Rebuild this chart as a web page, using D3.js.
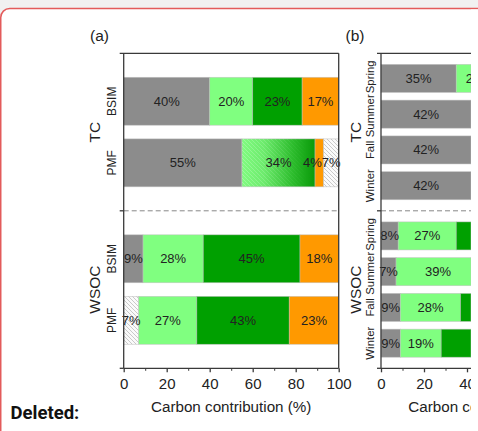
<!DOCTYPE html>
<html><head><meta charset="utf-8">
<script src="https://cdn.jsdelivr.net/npm/d3@7"></script>
<style>body{margin:0;background:#f1f1f1;overflow:hidden}svg{display:block}</style>
</head><body>
<script>
// ---------------- data ----------------
const groups = ["TC", "WSOC"];
const methods = ["BSIM", "PMF"];
const seasons = ["Spring", "Summer", "Fall", "Winter"];
const xTicks = [0, 20, 40, 60, 80, 100];
const xMinorTicks = [10, 30, 50, 70, 90];
const panelTitles = ["(a)", "(b)"];
const xAxisTitle = "Carbon contribution (%)";
const footerText = "Deleted:";

const tcBSIMSources = ["gray", "light", "dark", "orange"];
const tcBSIMValues = [40, 20, 23, 17];
const tcPMFSources = ["gray", "mixed", "orange", "hatch"];
const tcPMFValues = [55, 34, 4, 7];
const wsocBSIMSources = ["gray", "light", "dark", "orange"];
const wsocBSIMValues = [9, 28, 45, 18];
const wsocPMFSources = ["hatch", "light", "dark", "orange"];
const wsocPMFValues = [7, 27, 43, 23];

const seasonSources = ["gray", "light", "dark", "orange"];
const tcSeasonValues = [[35, 21, 26, 18], [42, 19, 22, 17], [42, 18, 23, 17], [42, 17, 25, 16]];
const wsocSeasonValues = [[8, 27, 47, 18], [7, 39, 38, 16], [9, 28, 45, 18], [9, 19, 52, 20]];

// ---------------- setup ----------------
const W = 478, H = 431;
const FONT = "'Liberation Sans', Arial, sans-serif";
const colors = { gray: "#8c8c8c", light: "#80ff80", dark: "#00a000", orange: "#ff9900" };

const svg = d3.select("body").append("svg").attr("width", W).attr("height", H);
const defs = svg.append("defs");

const hp = defs.append("pattern").attr("id", "hatch").attr("patternUnits", "userSpaceOnUse")
  .attr("width", 4).attr("height", 4);
hp.append("rect").attr("width", 4).attr("height", 4).attr("fill", "#fafafa");
hp.append("path").attr("d", "M-1,-1L5,5M3,-1L5,1M-1,3L1,5").attr("stroke", "#b4b4b4").attr("stroke-width", 0.7);
const hp2 = defs.append("pattern").attr("id", "hatchLight").attr("patternUnits", "userSpaceOnUse")
  .attr("width", 4).attr("height", 4);
hp2.append("path").attr("d", "M-1,-1L5,5M3,-1L5,1M-1,3L1,5").attr("stroke", "rgba(255,255,255,0.35)").attr("stroke-width", 0.7);
const mg = defs.append("linearGradient").attr("id", "mixedGrad").attr("x1", 0).attr("x2", 1).attr("y1", 0).attr("y2", 0);
[[0, "#80fb80"], [0.3, "#6deb6d"], [0.7, "#2cbc2c"], [1, "#0a9a0a"]].forEach(([o, c]) =>
  mg.append("stop").attr("offset", o).attr("stop-color", c));
const fg = defs.append("linearGradient").attr("id", "fadeGrad").attr("x1", 0).attr("x2", 1).attr("y1", 0).attr("y2", 0);
fg.append("stop").attr("offset", 0).attr("stop-color", "#fff");
fg.append("stop").attr("offset", 0.9).attr("stop-color", "#000");
const mask = defs.append("mask").attr("id", "fadeMask").attr("maskContentUnits", "objectBoundingBox");
mask.append("rect").attr("width", 1).attr("height", 1).attr("fill", "url(#fadeGrad)");

svg.append("rect").attr("x", 0.75).attr("y", 8.5).attr("width", W + 20).attr("height", H + 20)
  .attr("rx", 9).attr("fill", "#fff").attr("stroke", "#e35b5b").attr("stroke-width", 1.5);

svg.append("text").attr("x", 10.5).attr("y", 418.5).text(footerText)
  .attr("font-family", "Roboto, 'Liberation Sans', sans-serif").attr("font-weight", "bold")
  .attr("font-size", 18.5).attr("fill", "#111");

const plotTop = 53.3, plotBottom = 368.3;
const yGroup = d3.scaleBand().domain(groups).range([plotTop, plotBottom]);

function fillFor(s) {
  if (s === "mixed") return "url(#mixedGrad)";
  if (s === "hatch") return "url(#hatch)";
  return colors[s];
}

function drawPanel(g, cfg) {
  const x = d3.scaleLinear().domain([0, 100]).range(cfg.xRange);
  const x0 = cfg.xRange[0], x1 = cfg.xRange[1];
  const lim = cfg.limit;
  const cx0 = v => Math.min(x(v), lim);

  groups.forEach((grp, gi) => {
    const g0 = yGroup(grp), g1 = yGroup(grp) + yGroup.bandwidth();
    const yRow = d3.scaleBand().domain(cfg.rows).range([g0, g1])
      .paddingInner(cfg.pi).paddingOuter(cfg.po);
    const rowLabels = [];
    cfg.rows.forEach((row, ri) => {
      const vals = cfg.values[gi][ri], srcs = cfg.sources[gi][ri];
      let cum = 0;
      const segs = vals.map((v, i) => { const s = { s: srcs[i], a: cum, b: cum + v, v }; cum += v; return s; });
      const y = yRow(row), bh = yRow.bandwidth();
      const bar = g.append("g");
      segs.filter(sg => x(sg.a) < lim).forEach(sg => {
        bar.append("rect").attr("x", x(sg.a)).attr("y", y).attr("width", cx0(sg.b) - x(sg.a)).attr("height", bh)
          .attr("fill", fillFor(sg.s)).attr("stroke", "rgba(190,190,190,0.7)").attr("stroke-width", 0.7);
        if (sg.s === "mixed") {
          bar.append("rect").attr("x", x(sg.a)).attr("y", y).attr("width", cx0(sg.b) - x(sg.a)).attr("height", bh)
            .attr("fill", "url(#hatchLight)").attr("mask", "url(#fadeMask)");
        }
      });
      segs.forEach(sg => {
        const w = x(sg.b) - x(sg.a);
        let cx = (x(sg.a) + x(sg.b)) / 2;
        if (w < 12) cx -= 7;
        const t = bar.append("text").attr("x", cx).attr("y", y + bh / 2).text(sg.v + "%")
          .attr("text-anchor", "middle").attr("dominant-baseline", "central")
          .attr("font-family", FONT).attr("font-size", 13).attr("fill", "#222");
        const tw = t.node().getComputedTextLength();
        if (cx - tw / 2 > lim - 3) t.remove();
      });
      const lt = g.append("text").text(row).attr("text-anchor", "middle").attr("dominant-baseline", "central")
        .attr("font-family", FONT).attr("font-size", cfg.rowFont).attr("fill", "#222");
      rowLabels.push({ el: lt, c: y + bh / 2, w: lt.node().getComputedTextLength() });
    });
    for (let k = 0; k < 20; k++) {
      for (let i = 0; i < rowLabels.length - 1; i++) {
        const a = rowLabels[i], b = rowLabels[i + 1];
        const ov = (a.c + a.w / 2 + 1) - (b.c - b.w / 2);
        if (ov > 0) { a.c -= ov / 2; b.c += ov / 2; }
      }
    }
    rowLabels.forEach(l => l.el.attr("transform", `translate(${cfg.rowLabelX},${l.c}) rotate(-90)`));
    g.append("text").attr("transform", `translate(${cfg.groupLabelX},${g0 + (g1 - g0) / 2}) rotate(-90)`)
      .text(grp).attr("text-anchor", "middle").attr("dominant-baseline", "central")
      .attr("font-family", FONT).attr("font-size", 15.5).attr("fill", "#222");
  });

  const xe = Math.min(x1, lim);
  const mid = yGroup("WSOC");
  g.append("line").attr("x1", x0).attr("x2", xe).attr("y1", mid).attr("y2", mid)
    .attr("stroke", "#888").attr("stroke-width", 1).attr("stroke-dasharray", "5,3");

  const lineC = "#3a3a3a", lw = 1.3;
  g.append("line").attr("x1", x0 - 4).attr("x2", xe).attr("y1", plotTop).attr("y2", plotTop).attr("stroke", lineC).attr("stroke-width", lw);
  if (x1 <= lim) g.append("line").attr("x1", x1).attr("x2", x1).attr("y1", plotTop).attr("y2", plotBottom).attr("stroke", lineC).attr("stroke-width", lw);
  g.append("line").attr("x1", x0).attr("x2", x0).attr("y1", plotTop).attr("y2", plotBottom).attr("stroke", lineC).attr("stroke-width", lw);
  [mid, plotBottom].forEach(yy => g.append("line").attr("x1", x0 - 4).attr("x2", x0).attr("y1", yy).attr("y2", yy)
    .attr("stroke", lineC).attr("stroke-width", lw));

  const visMaj = xTicks.filter(v => x(v) - 8 < lim);
  const visMin = xMinorTicks.filter(v => x(v) < lim);
  const ax = g.append("g").attr("transform", `translate(0,${plotBottom})`)
    .call(d3.axisBottom(x).tickValues(visMaj).tickSize(4).tickSizeOuter(0).tickPadding(6).tickFormat(d3.format("d")));
  ax.select(".domain").remove();
  g.append("line").attr("x1", x0).attr("x2", xe).attr("y1", plotBottom).attr("y2", plotBottom).attr("stroke", lineC).attr("stroke-width", lw);
  ax.selectAll(".tick line").attr("stroke", lineC).attr("stroke-width", lw);
  ax.selectAll(".tick text").attr("font-family", FONT).attr("font-size", 15).attr("fill", "#222");
  const axm = g.append("g").attr("transform", `translate(0,${plotBottom})`)
    .call(d3.axisBottom(x).tickValues(visMin).tickSize(2.5).tickSizeOuter(0).tickFormat(""));
  axm.select(".domain").remove();
  axm.selectAll(".tick line").attr("stroke", lineC).attr("stroke-width", 1);

  g.append("text").attr("x", (x0 + x1) / 2).attr("y", 411.5).text(xAxisTitle)
    .attr("text-anchor", "middle").attr("font-family", FONT).attr("font-size", 15.2).attr("fill", "#222");

  g.append("text").attr("x", cfg.titleX).attr("y", 40.5).text(cfg.title)
    .attr("text-anchor", "middle").attr("font-family", FONT).attr("font-size", 15.5).attr("fill", "#222");
}

const gA = svg.append("g");
drawPanel(gA, {
  xRange: [123.7, 338.7], rows: methods, pi: 0.222, po: 0.39, limit: 1000, rowFont: 12,
  values: [[tcBSIMValues, tcPMFValues], [wsocBSIMValues, wsocPMFValues]],
  sources: [[tcBSIMSources, tcPMFSources], [wsocBSIMSources, wsocPMFSources]],
  rowLabelX: 111.5, groupLabelX: 94.5, title: panelTitles[0], titleX: 99.5
});

// panel (b) is cut at the right edge of the embedded figure
const gB = svg.append("svg").attr("x", 0).attr("y", 0).attr("width", 471).attr("height", H)
  .style("overflow", "hidden").append("g");
drawPanel(gB, {
  xRange: [381, 596], rows: seasons, pi: 0.216, po: 0.31, limit: 471, rowFont: 11.4,
  values: [tcSeasonValues, wsocSeasonValues],
  sources: [seasons.map(() => seasonSources), seasons.map(() => seasonSources)],
  rowLabelX: 370, groupLabelX: 355, title: panelTitles[1], titleX: 355
});
// white margin right of the cut figure
svg.append("rect").attr("x", 471).attr("y", 9.5).attr("width", 7).attr("height", H - 9.5).attr("fill", "#fff");
</script>
</body></html>
